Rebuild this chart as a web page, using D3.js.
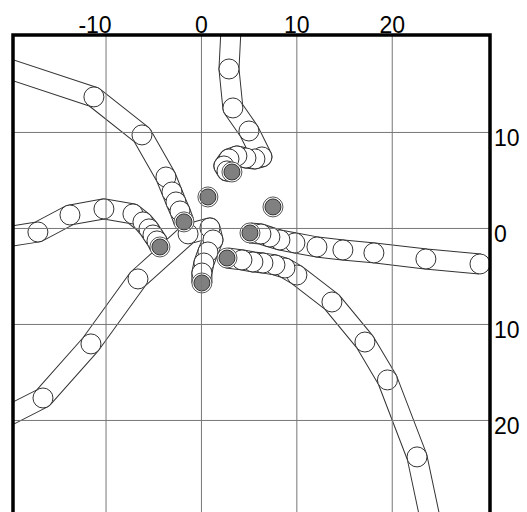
<!DOCTYPE html>
<html>
<head>
<meta charset="utf-8">
<script src="https://cdn.jsdelivr.net/npm/d3@7"></script>
<style>
  html, body { margin: 0; padding: 0; background: #fff; }
  svg { display: block; }
</style>
</head>
<body>
<div id="chart"></div>
<script>
// tick values
const xTicks = [-10, 0, 10, 20];
const yTicks = [10, 0, -10, -20];

// tracks, each from its outer start to its end point (last point = filled)
const trackTop = [[3.25, 22.7], [2.94, 16.56], [3.35, 12.5], [5.03, 10.1], [6.39, 7.4], [5.66, 7.19],
  [4.72, 7.29], [3.77, 7.5], [2.94, 7.19], [2.41, 6.46], [2.73, 5.94], [3.25, 5.83]];
const trackUpperLeft = [[-21.07, 16.88], [-11.22, 13.65], [-6.18, 9.69], [-3.67, 5.31], [-3.04, 3.75],
  [-2.62, 2.71], [-2.2, 1.77], [-1.78, 0.63]];
const trackLeft = [[-21.07, -1.04], [-17.09, -0.42], [-13.73, 1.35], [-10.17, 1.98], [-7.13, 1.46],
  [-6.08, 0.63], [-5.45, -0.1], [-5.03, -0.73], [-4.61, -1.35], [-4.3, -1.98]];
const trackLowerLeft = [[-21.07, -20.0], [-16.56, -17.71], [-11.53, -12.08], [-6.6, -5.31], [-1.35, -0.62],
  [0.94, 0.0], [1.26, -1.25], [0.73, -2.5], [0.31, -3.65], [0.1, -4.69], [0.1, -5.73]];
const trackRight = [[29.25, -3.75], [23.58, -3.23], [18.13, -2.6], [14.88, -2.29], [12.16, -1.98],
  [9.85, -1.56], [8.28, -1.25], [7.23, -0.94], [6.29, -0.63], [5.14, -0.52]];
const trackLowerRight = [[24.6, -33.0], [22.65, -23.85], [19.55, -15.83], [17.19, -11.88], [13.73, -7.71],
  [10.06, -4.9], [8.81, -4.17], [7.76, -3.85], [6.5, -3.65], [5.45, -3.54], [4.3, -3.33], [2.73, -3.13]];
// single points with no track
const singles = [[0.73, 3.23], [7.55, 2.19]];

const tracks = [trackTop, trackUpperLeft, trackLeft, trackLowerLeft, trackRight, trackLowerRight];

const W = 527, H = 512;
const plotL = 13, plotR = 490, plotT = 35, plotB = 515;

const svg = d3.select('#chart').append('svg')
  .attr('width', W)
  .attr('height', H);

const x = d3.scaleLinear().domain([-19.7, 30.3]).range([plotL, plotR]);
const y = d3.scaleLinear().domain([20.1, -29.9]).range([plotT, plotB]);

svg.append('clipPath').attr('id', 'plot-clip')
  .append('rect')
  .attr('x', plotL).attr('y', plotT)
  .attr('width', plotR - plotL).attr('height', plotB - plotT);

const g = svg.append('g').attr('clip-path', 'url(#plot-clip)');

const line = d3.line().x(d => x(d[0])).y(d => y(d[1]));

tracks.forEach(pts => {
  const tg = g.append('g');
  // tube: dark wide stroke under a slightly narrower white one
  tg.append('path')
    .attr('d', line(pts))
    .attr('fill', 'none')
    .attr('stroke', '#333')
    .attr('stroke-width', 21)
    .attr('stroke-linejoin', 'round');
  tg.append('path')
    .attr('d', line(pts))
    .attr('fill', 'none')
    .attr('stroke', '#fff')
    .attr('stroke-width', 19)
    .attr('stroke-linejoin', 'round');
  tg.selectAll('circle.pt')
    .data(pts.slice(0, -1))
    .enter().append('circle')
    .attr('class', 'pt')
    .attr('cx', d => x(d[0]))
    .attr('cy', d => y(d[1]))
    .attr('r', 10)
    .attr('fill', '#fff')
    .attr('stroke', '#333')
    .attr('stroke-width', 1);
});

// filled end points
const ends = tracks.map(t => t[t.length - 1]).concat(singles);
const eg = g.append('g');
ends.forEach(d => {
  eg.append('circle')
    .attr('cx', x(d[0])).attr('cy', y(d[1]))
    .attr('r', 10)
    .attr('fill', '#fff')
    .attr('stroke', '#555')
    .attr('stroke-width', 1);
  eg.append('circle')
    .attr('cx', x(d[0])).attr('cy', y(d[1]))
    .attr('r', 8)
    .attr('fill', '#808080')
    .attr('stroke', '#333')
    .attr('stroke-width', 1);
});

// grid + labels (drawn above the tracks)
const xAxis = svg.append('g')
  .attr('transform', `translate(0,${plotT})`)
  .call(d3.axisTop(x).tickValues(xTicks).tickSize(-(plotB - plotT)).tickPadding(2)
    .tickFormat(d => d));
xAxis.select('.domain').remove();
xAxis.selectAll('.tick line').attr('stroke', '#777').attr('stroke-width', 1);
xAxis.selectAll('.tick text')
  .attr('fill', '#000')
  .style('font-family', '"Liberation Sans", Arial, sans-serif')
  .style('font-size', '23px')
  .attr('dx', d => d < 0 ? -11 : 0);

const yAxis = svg.append('g')
  .attr('transform', `translate(${plotR},0)`)
  .call(d3.axisRight(y).tickValues(yTicks).tickSize(-(plotR - plotL)).tickPadding(4)
    .tickFormat(d => Math.abs(d)));
yAxis.select('.domain').remove();
yAxis.selectAll('.tick line').attr('stroke', '#777').attr('stroke-width', 1);
yAxis.selectAll('.tick text')
  .attr('fill', '#000')
  .attr('dy', '0.57em')
  .style('font-family', '"Liberation Sans", Arial, sans-serif')
  .style('font-size', '23px');

// frame: left, top, right
svg.append('path')
  .attr('d', `M${plotL},${H + 5}V${plotT}H${plotR}V${H + 5}`)
  .attr('fill', 'none')
  .attr('stroke', '#000')
  .attr('stroke-width', 3.5);
</script>
</body>
</html>
